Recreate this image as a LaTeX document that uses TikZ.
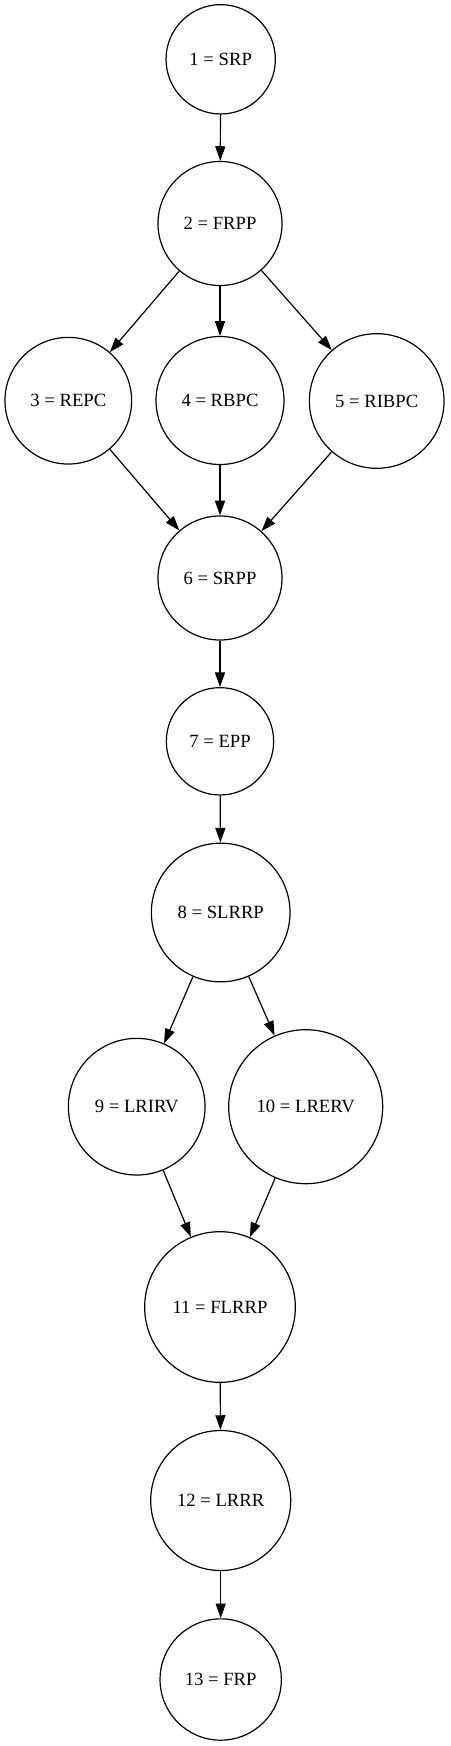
\documentclass[tikz,border=0pt]{standalone}
\usepackage{fontspec}
\setmainfont{Liberation Serif}
\usepackage{tikz}
\usetikzlibrary{arrows.meta, positioning, calc}

\begin{document}
\begin{tikzpicture}[x=0.75pt,y=-0.75pt]
  \useasboundingbox (0,0) rectangle (450,1746);
  \tikzset{VertexStyle/.style={circle,draw,line width=0.9pt,inner sep=0pt,
      font=\fontsize{14}{16.8}\selectfont}}
  \tikzset{EdgeStyle/.style={-{Triangle[length=11pt,width=7.5pt]},line width=0.9pt}}

  \node[VertexStyle,minimum size=82pt]  (V1)  at (220.7,59.3)   {1 = SRP};
  \node[VertexStyle,minimum size=93pt]  (V2)  at (220,223.5)    {2 = FRPP};
  \node[VertexStyle,minimum size=95pt]  (V3)  at (68.3,400.7)   {3 = REPC};
  \node[VertexStyle,minimum size=96pt]  (V4)  at (220,400.5)    {4 = RBPC};
  \node[VertexStyle,minimum size=101pt] (V5)  at (376.7,401)    {5 = RIBPC};
  \node[VertexStyle,minimum size=93pt]  (V6)  at (220,578)      {6 = SRPP};
  \node[VertexStyle,minimum size=80.5pt] (V7) at (220,741.3)    {7 = EPP};
  \node[VertexStyle,minimum size=104pt] (V8)  at (220.7,912.5)  {8 = SLRRP};
  \node[VertexStyle,minimum size=102.5pt] (V9) at (136.7,1106.7) {9 = LRIRV};
  \node[VertexStyle,minimum size=115.5pt] (V10) at (305.7,1106.7) {10 = LRERV};
  \node[VertexStyle,minimum size=113pt] (V11) at (220,1307)     {11 = FLRRP};
  \node[VertexStyle,minimum size=105pt] (V12) at (220.7,1500.5) {12 = LRRR};
  \node[VertexStyle,minimum size=91pt]  (V13) at (220.7,1679.5) {13 = FRP};

  \draw[EdgeStyle] (V1) -- (V2);
  \draw[EdgeStyle] (V2) -- (V3);
  \draw[EdgeStyle] (V2) -- (V4);
  \draw[EdgeStyle] (V2) -- (V5);
  \draw[EdgeStyle] (V3) -- (V6);
  \draw[EdgeStyle] (V4) -- (V6);
  \draw[EdgeStyle] (V5) -- (V6);
  \draw[EdgeStyle] (V6) -- (V7);
  \draw[EdgeStyle] (V7) -- (V8);
  \draw[EdgeStyle] (V8) -- (V9);
  \draw[EdgeStyle] (V8) -- (V10);
  \draw[EdgeStyle] (V9) -- (V11);
  \draw[EdgeStyle] (V10) -- (V11);
  \draw[EdgeStyle] (V11) -- (V12);
  \draw[EdgeStyle] (V12) -- (V13);
\end{tikzpicture}
\end{document}
